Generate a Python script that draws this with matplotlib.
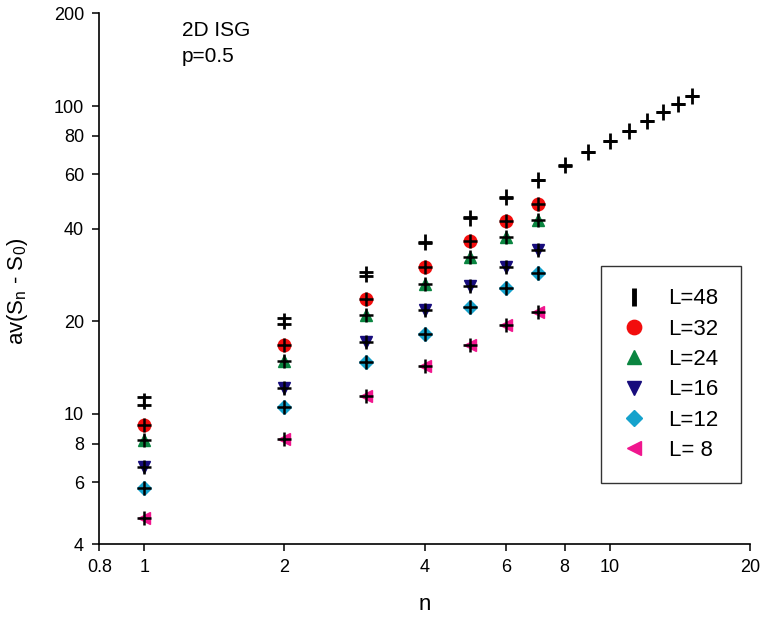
import matplotlib
matplotlib.use('Agg')
import matplotlib.pyplot as plt
from matplotlib.lines import Line2D

plt.rcParams['font.family'] = ['Liberation Sans', 'DejaVu Sans']
plt.rcParams['mathtext.default'] = 'regular'

# data (log-log)
n_long = [1, 2, 3, 4, 5, 6, 7, 8, 9, 10, 11, 12, 13, 14, 15]
n_short = [1, 2, 3, 4, 5, 6, 7]

s_L48 = [11.0, 20.0, 28.5, 36.1, 43.4, 50.5, 57.5, 64.1, 70.8, 76.9, 83.1, 89.2, 95.7, 101.7, 107.6]
err_L48 = [0.33, 0.45, 0.5, 0.1, 0.1, 0.1, 0.05, 0.05, 0.05, 0.05, 0.05, 0.05, 0.05, 0.05, 0.05]
s_L32 = [9.2, 16.8, 23.6, 30.1, 36.5, 42.4, 48.0]
s_L24 = [8.2, 14.9, 20.9, 26.5, 32.3, 37.5, 42.7]
s_L16 = [6.7, 12.1, 17.1, 21.8, 26.1, 30.1, 34.0]
s_L12 = [5.75, 10.5, 14.7, 18.2, 22.3, 25.6, 28.6]
s_L8 = [4.6, 8.3, 11.4, 14.3, 16.8, 19.4, 21.4]

labels = ['L=48', 'L=32', 'L=24', 'L=16', 'L=12', 'L= 8']

x_ticks = [0.8, 1, 2, 4, 6, 8, 10, 20]
y_ticks = [4, 6, 8, 10, 20, 40, 60, 80, 100, 200]
y_bottom = 3.78  # axis bottom in the reference sits a bit below 4

fig = plt.figure(figsize=(7.62, 6.17), dpi=100)
ax = fig.add_axes([0.1303, 0.1183, 0.8536, 0.8601])
ax.set_xscale('log')
ax.set_yscale('log')

# L=48: vertical bar marker with error bar caps
ax.errorbar(n_long, s_L48, yerr=err_L48, fmt='|', color='black', ms=11, mew=2.0,
            ecolor='black', elinewidth=1.6, capsize=4.8, capthick=1.8)
handles = [Line2D([], [], linestyle='none', marker='|', color='black', ms=13, mew=3.5)]

others = [
    (s_L32, 'o', '#f20d0d'),
    (s_L24, '^', '#0a8540'),
    (s_L16, 'v', '#170c7c'),
    (s_L12, 'D', '#15a2cc'),
    (s_L8, '<', '#f0168e'),
]
for vals, mk, col in others:
    ms = 7.5 if mk == 'D' else 9
    ax.plot(n_short, vals, linestyle='none', marker=mk, color=col, ms=ms, mec=col)
    ax.plot(n_short, vals, linestyle='none', marker='+', color='black', ms=10, mew=1.8)
    handles.append(Line2D([], [], linestyle='none', marker=mk, color=col,
                          ms=ms * 1.15, mec=col))

ax.set_xlim(0.8, 20)
ax.set_ylim(y_bottom, 200)

ax.set_xticks(x_ticks)
ax.set_xticklabels([str(t) for t in x_ticks])
ax.set_yticks([y_bottom] + y_ticks[1:])
ax.set_yticklabels([str(t) for t in y_ticks])
ax.minorticks_off()
ax.tick_params(axis='both', which='major', direction='out', length=5, width=1.1,
               labelsize=13, pad=6)

for side in ['top', 'right']:
    ax.spines[side].set_visible(False)
for side in ['left', 'bottom']:
    ax.spines[side].set_linewidth(1.2)

ax.text(0.127, 0.985, '2D ISG\np=0.5', transform=ax.transAxes, ha='left', va='top',
        fontsize=15, linespacing=1.45)

leg = ax.legend(handles, labels, loc='upper left', bbox_to_anchor=(0.771, 0.5235),
                fontsize=16, frameon=True, fancybox=False, edgecolor='black',
                handlelength=1.0, handletextpad=1.05, labelspacing=0.42,
                borderpad=1.0, borderaxespad=0)
leg.get_frame().set_linewidth(1.0)

fig.text(18 / 762, 1 - 291 / 617, r'av(S$_{n}$ - S$_{0}$)', rotation=90,
         ha='center', va='center', fontsize=16)
fig.text(425 / 762, 1 - 605 / 617, 'n', ha='center', va='center', fontsize=16)

fig.savefig('out.png', dpi=100)
